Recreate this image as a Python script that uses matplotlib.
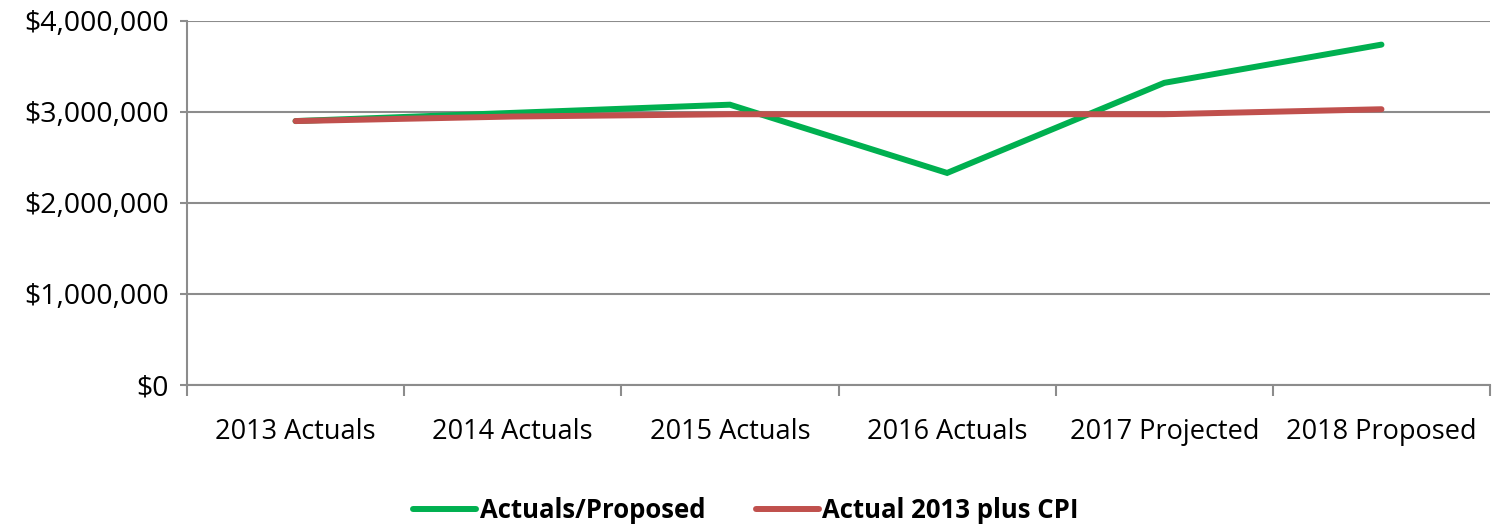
import matplotlib

matplotlib.use("Agg")
import matplotlib.pyplot as plt
from matplotlib.ticker import FuncFormatter, MultipleLocator

plt.rcParams["font.family"] = ["Open Sans", "DejaVu Sans"]

categories = ["2013 Actuals", "2014 Actuals", "2015 Actuals",
              "2016 Actuals", "2017 Projected", "2018 Proposed"]
actuals_proposed = [2900000, 2990000, 3080000, 2330000, 3320000, 3740000]
actual_2013_cpi = [2900000, 2950000, 2975000, 2975000, 2975000, 3030000]

fig = plt.figure(figsize=(14.92, 5.24), dpi=100)
ax = fig.add_axes([0.1253, 0.2653, 0.8734, 0.6947])

x = range(len(categories))
ax.plot(x, actuals_proposed, color="#00B050", lw=4.3, solid_capstyle="round",
        solid_joinstyle="miter", label="Actuals/Proposed", zorder=3)
ax.plot(x, actual_2013_cpi, color="#C0504D", lw=4.3, solid_capstyle="round",
        label="Actual 2013 plus CPI", zorder=3)

ax.set_xlim(-0.5, len(categories) - 0.5)
ax.set_ylim(0, 4000000)
ax.yaxis.set_major_locator(MultipleLocator(1000000))
ax.yaxis.set_major_formatter(FuncFormatter(lambda v, p: f"${v:,.0f}"))
ax.set_xticks(list(x))
ax.set_xticklabels(categories)
ax.set_xticks([i - 0.5 for i in range(len(categories) + 1)], minor=True)

ax.grid(axis="y", color="#8c8c8c", lw=1.5)
ax.set_axisbelow(True)
for s in ["top", "right"]:
    ax.spines[s].set_visible(False)
for s in ["left", "bottom"]:
    ax.spines[s].set_color("#8c8c8c")
    ax.spines[s].set_linewidth(1.5)

ax.tick_params(axis="x", which="major", length=0, pad=24, labelsize=19.5)
ax.tick_params(axis="x", which="minor", length=8, width=1.5, color="#8c8c8c")
ax.tick_params(axis="y", length=5, width=1.5, color="#8c8c8c", pad=8, labelsize=20.5)

fig.legend(loc="lower center", bbox_to_anchor=(0.5, -0.045), ncol=2, frameon=False,
           prop={"weight": "bold", "size": 18.5}, handlelength=2.45,
           handletextpad=0.15, columnspacing=1.95)

fig.savefig("out.png", dpi=100)
